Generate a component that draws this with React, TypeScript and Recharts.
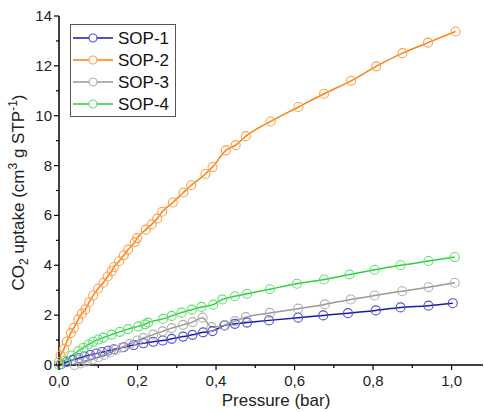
import { LineChart, Line, XAxis, YAxis } from 'recharts';

// pressure (bar) and uptake values
const sop1P = [0.005, 0.02, 0.035, 0.05, 0.065, 0.08, 0.095, 0.11, 0.125, 0.14, 0.165, 0.19, 0.215, 0.24, 0.264, 0.287, 0.316, 0.34, 0.367, 0.391, 0.422, 0.448, 0.479, 0.535, 0.609, 0.673, 0.736, 0.807, 0.87, 0.941, 1.003];
const sop1V = [0.03, 0.12, 0.2, 0.27, 0.34, 0.4, 0.46, 0.52, 0.57, 0.63, 0.71, 0.8, 0.87, 0.93, 0.98, 1.05, 1.14, 1.21, 1.31, 1.36, 1.59, 1.65, 1.7, 1.79, 1.9, 1.99, 2.08, 2.19, 2.31, 2.38, 2.48];

const sop2P = [0.0, 0.004, 0.013, 0.02, 0.03, 0.038, 0.049, 0.058, 0.067, 0.077, 0.087, 0.1, 0.113, 0.124, 0.134, 0.14, 0.153, 0.165, 0.176, 0.193, 0.199, 0.221, 0.236, 0.25, 0.263, 0.29, 0.317, 0.337, 0.373, 0.391, 0.425, 0.45, 0.476, 0.539, 0.61, 0.675, 0.744, 0.808, 0.875, 0.94, 1.01];
const sop2V = [0.12, 0.38, 0.65, 0.94, 1.28, 1.49, 1.83, 2.06, 2.23, 2.52, 2.79, 3.07, 3.3, 3.55, 3.76, 3.93, 4.16, 4.4, 4.63, 4.93, 5.09, 5.43, 5.64, 5.87, 6.15, 6.52, 6.92, 7.21, 7.66, 7.94, 8.61, 8.82, 9.18, 9.77, 10.35, 10.88, 11.4, 11.98, 12.51, 12.93, 13.38];

const sop3P = [0.04, 0.055, 0.07, 0.085, 0.1, 0.115, 0.13, 0.145, 0.16, 0.18, 0.2, 0.215, 0.24, 0.264, 0.287, 0.316, 0.34, 0.366, 0.388, 0.42, 0.448, 0.476, 0.537, 0.609, 0.677, 0.743, 0.804, 0.874, 0.941, 1.008];
const sop3V = [0.0, 0.06, 0.14, 0.22, 0.31, 0.4, 0.5, 0.6, 0.7, 0.84, 0.98, 1.08, 1.22, 1.35, 1.48, 1.61, 1.72, 1.9, 1.52, 1.59, 1.76, 1.92, 2.09, 2.26, 2.43, 2.63, 2.79, 2.96, 3.12, 3.3];

const sop4P = [0.0, 0.015, 0.032, 0.049, 0.062, 0.075, 0.087, 0.1, 0.113, 0.134, 0.155, 0.176, 0.202, 0.219, 0.227, 0.265, 0.287, 0.312, 0.338, 0.363, 0.393, 0.416, 0.448, 0.479, 0.537, 0.606, 0.675, 0.74, 0.804, 0.87, 0.941, 1.008];
const sop4V = [0.0, 0.18, 0.38, 0.56, 0.69, 0.82, 0.93, 1.02, 1.1, 1.22, 1.33, 1.44, 1.55, 1.63, 1.7, 1.85, 1.97, 2.1, 2.22, 2.33, 2.42, 2.63, 2.76, 2.86, 3.04, 3.26, 3.43, 3.63, 3.82, 4.0, 4.17, 4.33];

const seriesNames = ['SOP-1', 'SOP-2', 'SOP-3', 'SOP-4'];
const xTicks = [0, 0.1, 0.2, 0.3, 0.4, 0.5, 0.6, 0.7, 0.8, 0.9, 1.0];
const yTicks = [0, 1, 2, 3, 4, 5, 6, 7, 8, 9, 10, 11, 12, 13, 14];

const lineColors = ['#1a1aa6', '#ff7f0e', '#999999', '#2bd13d'];
const dotColors = ['#5050d0', '#ffa050', '#b0b0b0', '#60e070'];

const toRows = (p: number[], v: number[]) => p.map((x, i) => ({ p: x, v: v[i] }));
const series = [
  toRows(sop1P, sop1V),
  toRows(sop2P, sop2V),
  toRows(sop3P, sop3V),
  toRows(sop4P, sop4V),
];

const FONT = '"Liberation Sans", Arial, sans-serif';

const XTick = (props: any) => {
  const { x, y, payload } = props;
  const v = payload.value;
  const major = Math.round(v * 10) % 2 === 0;
  return (
    <g>
      <line x1={x} x2={x} y1={y} y2={y + (major ? 5 : 3)} stroke="#000" strokeWidth={1.2} />
      {major && (
        <text x={x} y={y + 21} textAnchor="middle" fontSize={15} fontFamily={FONT} fill="#222">
          {v.toFixed(1).replace('.', ',')}
        </text>
      )}
    </g>
  );
};

const YTick = (props: any) => {
  const { x, y, payload } = props;
  const v = payload.value;
  const major = v % 2 === 0;
  return (
    <g>
      <line x1={x} x2={x - (major ? 5 : 3)} y1={y} y2={y} stroke="#000" strokeWidth={1.2} />
      {major && (
        <text x={x - 7} y={y + 5} textAnchor="end" fontSize={15} fontFamily={FONT} fill="#222">
          {v}
        </text>
      )}
    </g>
  );
};

const YTitle = (props: any) => {
  const vb = props.viewBox || { x: 0, y: 0, height: 0 };
  const cx = 24;
  const cy = vb.y + vb.height / 2 + 2;
  return (
    <text
      x={cx}
      y={cy}
      transform={`rotate(-90, ${cx}, ${cy})`}
      textAnchor="middle"
      fontSize={17}
      fontFamily={FONT}
      fill="#222"
    >
      CO<tspan fontSize={12} dy={4}>2</tspan>
      <tspan dy={-4}> uptake (cm</tspan>
      <tspan fontSize={12} dy={-7}>3</tspan>
      <tspan dy={7}> g STP</tspan>
      <tspan fontSize={12} dy={-7}>-1</tspan>
      <tspan dy={7}>)</tspan>
    </text>
  );
};

const XTitle = (props: any) => {
  const vb = props.viewBox || { x: 0, y: 0, width: 0 };
  return (
    <text x={vb.x + 217} y={406} textAnchor="middle" fontSize={17} fontFamily={FONT} fill="#222">
      Pressure (bar)
    </text>
  );
};

const LegendBox = () => (
  <div
    style={{
      position: 'absolute',
      left: 70,
      top: 24,
      border: '1px solid #555',
      background: '#fff',
      width: 104,
      height: 91,
    }}
  >
    <svg width={104} height={91} style={{ display: 'block' }}>
      {seriesNames.map((name, i) => {
        const cy = 13 + i * 22;
        return (
          <g key={name}>
            <line x1={2} x2={42} y1={cy} y2={cy} stroke={lineColors[i]} strokeWidth={1.5} />
            <circle cx={22} cy={cy} r={4} fill="#fff" stroke={dotColors[i]} strokeWidth={1.2} />
            <text x={47} y={cy + 6} fontSize={17} fontFamily={FONT} fill="#111">
              {name}
            </text>
          </g>
        );
      })}
    </svg>
  </div>
);

export default function App() {
  return (
    <div style={{ position: 'absolute', left: 0, top: 0, width: 484, height: 412 }}>
      <LineChart width={484} height={412} margin={{ top: 16, right: 1, bottom: 0, left: 14 }}>
        <XAxis
          type="number"
          dataKey="p"
          domain={[0, 1.08]}
          ticks={xTicks}
          tick={<XTick />}
          tickLine={false}
          tickSize={0}
          tickMargin={0}
          axisLine={{ stroke: '#000', strokeWidth: 1.5 }}
          height={47}
          label={<XTitle />}
          allowDuplicatedCategory={false}
        />
        <YAxis
          type="number"
          dataKey="v"
          domain={[0, 14]}
          ticks={yTicks}
          tick={<YTick />}
          tickLine={false}
          tickSize={0}
          tickMargin={0}
          axisLine={{ stroke: '#000', strokeWidth: 1.5 }}
          width={45}
          interval={0}
          label={<YTitle />}
        />
        {series.map((rows, i) => (
          <Line
            key={seriesNames[i]}
            name={seriesNames[i]}
            data={rows}
            dataKey="v"
            type="monotone"
            stroke={lineColors[i]}
            strokeWidth={1.5}
            dot={{ r: 4.5, fill: 'none', stroke: dotColors[i], strokeWidth: 1.1 }}
            activeDot={false}
            isAnimationActive={false}
          />
        ))}
      </LineChart>
      <LegendBox />
    </div>
  );
}
